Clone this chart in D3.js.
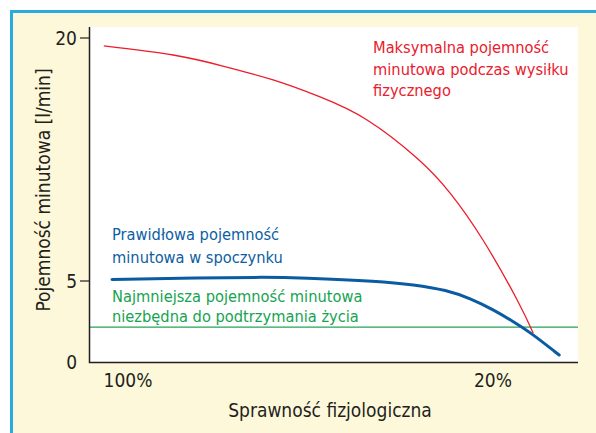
<!DOCTYPE html>
<html>
<head>
<meta charset="utf-8">
<script src="https://cdn.jsdelivr.net/npm/d3@7.9.0/dist/d3.min.js"></script>
<style>
  body { margin: 0; background: #fff; }
  svg { display: block; }
  text { font-family: "Liberation Sans Narrow", "DejaVu Sans Condensed", "Liberation Sans", sans-serif; }
</style>
</head>
<body>
<svg id="chart" width="596" height="433"></svg>
<script>
// Values (x = physiological fitness in %, y = l/min)
const maxFitness = [105.3, 90.1, 79.2, 68.2, 57.9, 47.6, 36.7, 29.4, 22.2, 14.7, 11.2];
const maxOutput = [19.51, 18.95, 18.27, 17.41, 16.36, 14.94, 12.59, 10.43, 7.53, 3.83, 1.79];

const restFitness = [103.5, 84.2, 69.5, 62.3, 44.8, 37.5, 30.1, 25.0, 20.0, 15.6, 11.9, 5.5];
const restOutput = [5.09, 5.2, 5.24, 5.2, 4.99, 4.78, 4.44, 3.92, 3.24, 2.5, 1.85, 0.43];

const minOutput = 2.15;

const yTicks = [20, 5, 0];
const xTicks = [100, 20];
const xTickLabels = ['100%', '20%'];

const maxLabel = ['Maksymalna pojemność', 'minutowa podczas wysiłku', 'fizycznego'];
const restLabel = ['Prawidłowa pojemność', 'minutowa w spoczynku'];
const minLabel = ['Najmniejsza pojemność minutowa', 'niezbędna do podtrzymania życia'];

const svg = d3.select('#chart');

// frame: blue edge on top and left, cream fill
svg.append('rect').attr('x', 10).attr('y', 10).attr('width', 586).attr('height', 423)
  .attr('fill', '#fdf8d9');
svg.append('path').attr('d', 'M11.5,433V11.5H596')
  .attr('fill', 'none').attr('stroke', '#2aaae2').attr('stroke-width', 3);

const plot = { left: 90, right: 578, top: 27, bottom: 362 };
svg.append('rect')
  .attr('x', plot.left).attr('y', plot.top)
  .attr('width', plot.right - plot.left).attr('height', plot.bottom - plot.top)
  .attr('fill', '#fff');

const x = d3.scaleLinear().domain([100, 20]).range([128, 493]);
const y = d3.scaleLinear().domain([0, 20]).range([362, 38]);

// green minimum line
svg.append('line')
  .attr('x1', plot.left).attr('x2', plot.right)
  .attr('y1', y(minOutput)).attr('y2', y(minOutput))
  .attr('stroke', '#22a456').attr('stroke-width', 1.4);

const restLine = d3.line()
  .x((d) => x(d[0]))
  .y((d) => y(d[1]))
  .curve(d3.curveBasis);

const maxLine = d3.line()
  .x((d) => x(d[0]))
  .y((d) => y(d[1]))
  .curve(d3.curveNatural);

svg.append('path')
  .attr('d', restLine(d3.zip(restFitness, restOutput)))
  .attr('fill', 'none').attr('stroke', '#0a5ba1').attr('stroke-width', 3)
  .attr('stroke-linecap', 'round');

svg.append('path')
  .attr('d', maxLine(d3.zip(maxFitness, maxOutput)))
  .attr('fill', 'none').attr('stroke', '#ec1c2a').attr('stroke-width', 1.3);

// axes
const ink = '#231f20';
svg.append('path')
  .attr('d', `M${plot.left - 0.5},${plot.top}V${plot.bottom + 0.5}H${plot.right}`)
  .attr('fill', 'none').attr('stroke', ink).attr('stroke-width', 1.5);

yTicks.forEach((t) => {
  if (t > 0) {
    svg.append('line')
      .attr('x1', 80).attr('x2', plot.left)
      .attr('y1', y(t)).attr('y2', y(t))
      .attr('stroke', ink).attr('stroke-width', 1.2);
  }
  svg.append('text')
    .attr('x', 77).attr('y', y(t)).attr('dy', '0.36em')
    .attr('text-anchor', 'end').attr('font-size', 19).attr('fill', ink)
    .text(t);
});

xTicks.forEach((t, i) => {
  svg.append('text')
    .attr('x', x(t)).attr('y', 387)
    .attr('text-anchor', 'middle').attr('font-size', 19).attr('fill', ink)
    .text(xTickLabels[i]);
});

svg.append('text')
  .attr('x', 330).attr('y', 417)
  .attr('text-anchor', 'middle').attr('font-size', 19).attr('fill', ink)
  .text('Sprawność fizjologiczna');

svg.append('text')
  .attr('transform', 'translate(50,190) rotate(-90)')
  .attr('text-anchor', 'middle').attr('font-size', 19).attr('fill', ink)
  .text('Pojemność minutowa [l/min]');

// curve labels
function label(lines, x0, y0, gap, color) {
  const t = svg.append('text').attr('font-size', 16.3).attr('fill', color);
  lines.forEach((s, i) => {
    t.append('tspan').attr('x', x0).attr('y', y0 + i * gap).text(s);
  });
}
label(maxLabel, 373, 53, 21.5, '#e8202d');
label(restLabel, 112, 240, 23, '#0c5ea3');
label(minLabel, 112, 302, 20, '#16a350');
</script>
</body>
</html>
